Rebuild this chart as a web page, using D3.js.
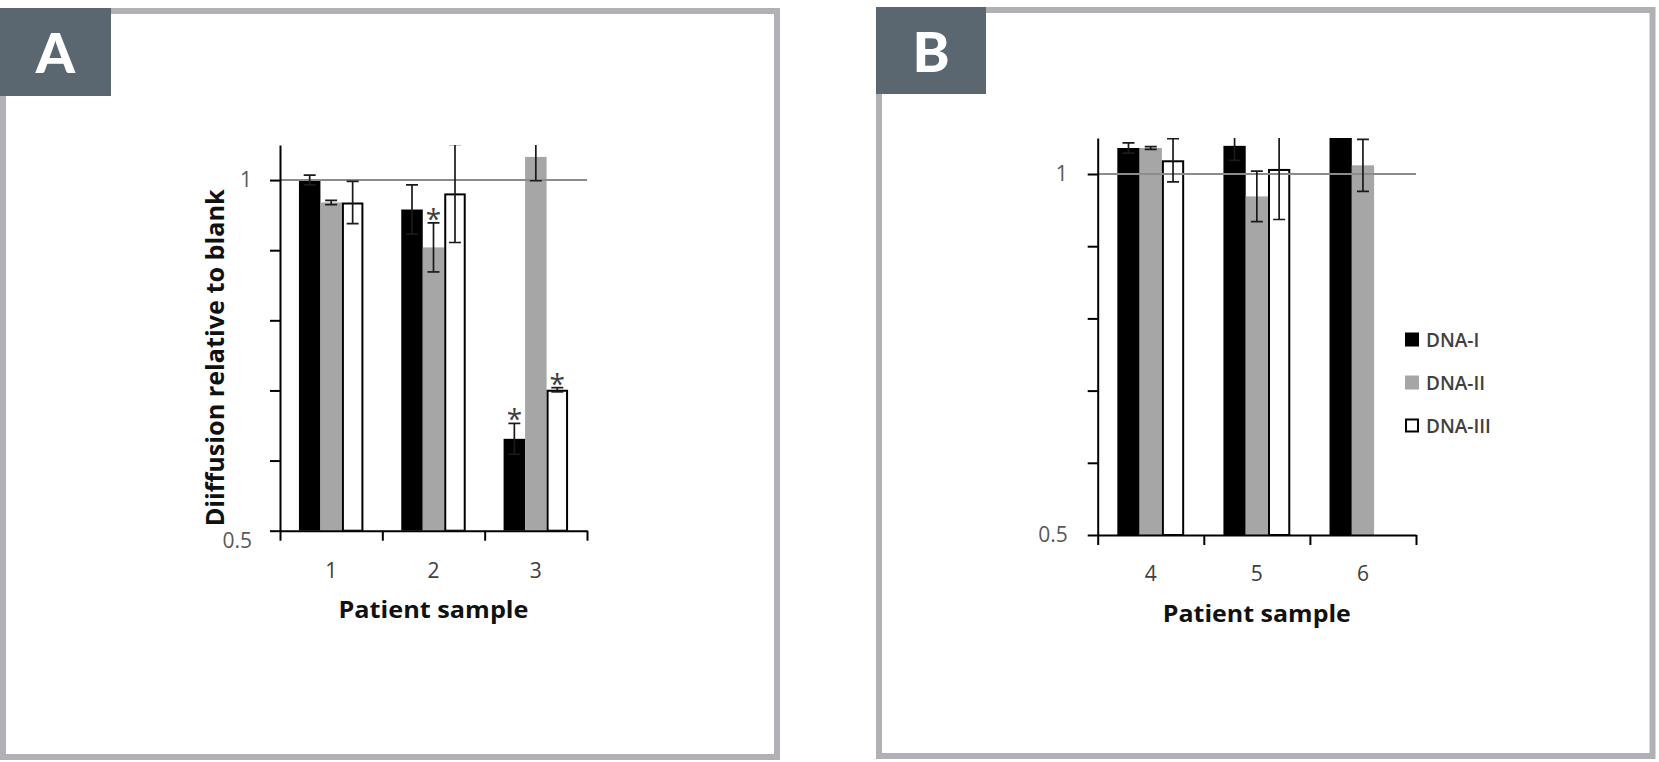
<!DOCTYPE html>
<html>
<head>
<meta charset="utf-8">
<script src="https://cdnjs.cloudflare.com/ajax/libs/d3/7.8.5/d3.min.js"></script>
<style>
  body { margin: 0; background: #fff; }
  svg { display: block; }
</style>
</head>
<body>
<div id="chart"></div>
<script>
const width = 1659;
const height = 762;

// data
const series = ["DNA-I", "DNA-II", "DNA-III"];
const categoriesA = ["1", "2", "3"];
const categoriesB = ["4", "5", "6"];

const dna1A = [1.000, 0.958, 0.631];
const dna2A = [0.968, 0.904, 1.033];
const dna3A = [0.968, 0.981, 0.701];
const err1A = [0.007, 0.035, 0.022];
const err2A = [0.003, 0.035, 0.034];
const err3A = [0.030, 0.070, 0.003];

const dna1B = [1.036, 1.039, 1.070];
const dna2B = [1.036, 0.969, 1.012];
const dna3B = [1.019, 1.007, null];
const err1B = [0.007, 0.020, 0];
const err2B = [0.002, 0.035, 0.036];
const err3B = [0.030, 0.070, null];

// significance stars (series index, category)
const starSeriesA = [1, 0, 2];
const starCatA = ["2", "3", "3"];

const yTicks = [0.5, 0.6, 0.7, 0.8, 0.9, 1];
const yLabeled = [0.5, 1];

const fills = ["#000000", "#a6a6a6", "#ffffff"];
const font = "'Open Sans', 'Liberation Sans', sans-serif";

const svg = d3.select("#chart")
  .append("svg")
  .attr("width", width)
  .attr("height", height);

const panels = [
  { letter: "A", frame: [3, 11, 774, 746], box: [0, 8, 111, 88],
    cats: categoriesA, vals: [dna1A, dna2A, dna3A], errs: [err1A, err2A, err3A],
    x0: 280, x1: 587, yTop: 145, yBottom: 530.7, tickPad: 18,
    ylabel: "Diiffusion relative to blank", ylabelX: 224,
    xlabelY: 618, xlabelLen: 190, ytitleLen: 337, tickLabelY: 578,
    stars: true, legend: false },
  { letter: "B", frame: [879, 10, 773.5, 746], box: [876, 7, 110, 87],
    cats: categoriesB, vals: [dna1B, dna2B, dna3B], errs: [err1B, err2B, err3B],
    x0: 1097.7, x1: 1416, yTop: 137.9, yBottom: 535, tickPad: 20,
    ylabel: null, xlabelY: 622, xlabelLen: 188, tickLabelY: 581,
    stars: false, legend: true }
];

panels.forEach((p, pi) => {
  // panel frame and letter tab
  svg.append("rect")
    .attr("x", p.frame[0]).attr("y", p.frame[1])
    .attr("width", p.frame[2]).attr("height", p.frame[3])
    .attr("fill", "none")
    .attr("stroke", "#b1b0b5")
    .attr("stroke-width", 6);

  svg.append("rect")
    .attr("x", p.box[0]).attr("y", p.box[1])
    .attr("width", p.box[2]).attr("height", p.box[3])
    .attr("fill", "#5b6770");

  svg.append("text")
    .attr("x", p.box[0] + p.box[2] / 2)
    .attr("y", p.box[1] + 65)
    .attr("text-anchor", "middle")
    .style("font-family", "Lato, 'Open Sans', sans-serif")
    .style("font-weight", 900)
    .style("font-size", "56px")
    .attr("fill", "#ffffff")
    .text(p.letter);

  const y = d3.scaleLinear().domain([0.5, 1.05]).range([p.yBottom, p.yTop]);
  const x = d3.scaleBand().domain(p.cats).range([p.x0, p.x1]).padding(0);
  const bw = x.bandwidth();
  const gw = bw * 0.63;
  const xs = d3.scaleBand().domain(series).range([(bw - gw) / 2, (bw + gw) / 2]).padding(0);
  const xb = d3.scaleLinear().domain([0, p.cats.length]).range([p.x0, p.x1]);

  const clipId = "clip" + pi;
  svg.append("clipPath").attr("id", clipId)
    .append("rect")
    .attr("x", p.x0).attr("y", p.yTop)
    .attr("width", p.x1 - p.x0 + 20).attr("height", p.yBottom - p.yTop);

  const plot = svg.append("g").attr("clip-path", "url(#" + clipId + ")");

  const rows = [];
  series.forEach((s, j) => {
    p.cats.forEach((c, i) => {
      if (p.vals[j][i] != null) {
        rows.push({ s: s, j: j, c: c, v: p.vals[j][i], e: p.errs[j][i] });
      }
    });
  });

  plot.selectAll("rect.bar")
    .data(rows)
    .enter()
    .append("rect")
    .attr("class", "bar")
    .attr("x", d => x(d.c) + xs(d.s) + (d.j === 2 ? 1 : 0))
    .attr("width", d => xs.bandwidth() - (d.j === 2 ? 2 : 0))
    .attr("y", d => y(d.v) + (d.j === 2 ? 1 : 0))
    .attr("height", d => p.yBottom - y(d.v) - (d.j === 2 ? 1 : 0))
    .attr("fill", d => fills[d.j])
    .attr("stroke", d => d.j === 2 ? "#000" : "none")
    .attr("stroke-width", 2);

  // reference line at 1
  plot.append("line")
    .attr("x1", p.x0).attr("x2", p.x1)
    .attr("y1", y(1)).attr("y2", y(1))
    .attr("stroke", "#8c8c8c")
    .attr("stroke-width", 2);

  // error bars
  const eb = plot.selectAll("g.err")
    .data(rows.filter(d => d.e > 0))
    .enter()
    .append("g")
    .attr("class", "err")
    .attr("transform", d => "translate(" + (x(d.c) + xs(d.s) + xs.bandwidth() / 2) + ",0)")
    .attr("stroke", "#1a1a1a")
    .attr("stroke-width", 1.7);
  eb.append("line")
    .attr("y1", d => y(d.v - d.e)).attr("y2", d => y(d.v + d.e));
  eb.append("line")
    .attr("x1", -6).attr("x2", 6)
    .attr("y1", d => y(d.v + d.e)).attr("y2", d => y(d.v + d.e));
  eb.append("line")
    .attr("x1", -6).attr("x2", 6)
    .attr("y1", d => y(d.v - d.e)).attr("y2", d => y(d.v - d.e));

  // axes
  const yAxis = d3.axisLeft(y)
    .tickValues(yTicks)
    .tickSize(10)
    .tickSizeOuter(0)
    .tickPadding(p.tickPad)
    .tickFormat(d => yLabeled.includes(d) ? d3.format("")(d) : "");
  const gy = svg.append("g")
    .attr("transform", "translate(" + p.x0 + ",0)")
    .call(yAxis);
  gy.select(".domain").attr("stroke", "#000").attr("stroke-width", 2);
  gy.selectAll(".tick line").attr("stroke", "#000").attr("stroke-width", 2);
  gy.selectAll(".tick text")
    .style("font-family", font)
    .style("font-size", "21px")
    .attr("fill", "#595959");
  if (pi === 0) {
    gy.selectAll(".tick text").filter(d => d === 0.5).attr("dy", "0.8em");
  }

  const gxTicks = svg.append("g")
    .attr("transform", "translate(0," + p.yBottom + ")")
    .call(d3.axisBottom(xb).tickValues(d3.range(p.cats.length + 1)).tickSize(10).tickSizeOuter(0).tickFormat(""));
  gxTicks.select(".domain").attr("stroke", "#000").attr("stroke-width", 2);
  gxTicks.selectAll(".tick line").attr("stroke", "#000").attr("stroke-width", 2);

  const gx = svg.append("g")
    .attr("transform", "translate(0," + p.yBottom + ")")
    .call(d3.axisBottom(x).tickSize(0).tickPadding(0));
  gx.select(".domain").remove();
  gx.selectAll(".tick text")
    .attr("dy", null)
    .attr("y", p.tickLabelY - p.yBottom)
    .style("font-family", font)
    .style("font-size", "21px")
    .attr("fill", "#404040");

  // axis titles
  svg.append("text")
    .attr("x", (p.x0 + p.x1) / 2)
    .attr("y", p.xlabelY)
    .attr("text-anchor", "middle")
    .attr("textLength", p.xlabelLen)
    .attr("lengthAdjust", "spacingAndGlyphs")
    .style("font-family", font)
    .style("font-weight", 700)
    .style("font-size", "23px")
    .attr("fill", "#111")
    .text("Patient sample");

  if (p.ylabel) {
    svg.append("text")
      .attr("transform", "translate(" + p.ylabelX + "," + ((p.yTop + p.yBottom) / 2 + 20) + ") rotate(-90)")
      .attr("text-anchor", "middle")
      .attr("textLength", p.ytitleLen)
      .attr("lengthAdjust", "spacingAndGlyphs")
      .style("font-family", font)
      .style("font-weight", 700)
      .style("font-size", "25px")
      .attr("fill", "#111")
      .text(p.ylabel);
  }

  if (p.stars) {
    const starRows = starSeriesA.map((j, k) => {
      const i = p.cats.indexOf(starCatA[k]);
      return { s: series[j], c: starCatA[k], top: p.vals[j][i] + p.errs[j][i] };
    });
    svg.selectAll("text.star" + pi)
      .data(starRows)
      .enter()
      .append("text")
      .attr("class", "star" + pi)
      .attr("x", d => x(d.c) + xs(d.s) + xs.bandwidth() / 2)
      .attr("y", d => y(d.top) + 6)
      .attr("text-anchor", "middle")
      .style("font-family", font)
      .style("font-size", "28px")
      .attr("fill", "#404040")
      .text("*");
  }

  if (p.legend) {
    const lg = svg.append("g").attr("transform", "translate(1405,332.5)");
    const item = lg.selectAll("g")
      .data(series)
      .enter()
      .append("g")
      .attr("transform", (d, i) => "translate(0," + i * 43 + ")");
    item.append("rect")
      .attr("x", (d, i) => i === 2 ? 1 : 0)
      .attr("y", (d, i) => i === 2 ? 1 : 0)
      .attr("width", (d, i) => i === 2 ? 12 : 14)
      .attr("height", (d, i) => i === 2 ? 12 : 14)
      .attr("fill", (d, i) => fills[i])
      .attr("stroke", (d, i) => i === 2 ? "#000" : "none")
      .attr("stroke-width", 2);
    item.append("text")
      .attr("x", 21)
      .attr("y", 14)
      .style("font-family", font)
      .style("font-weight", 600)
      .style("font-size", "19px")
      .attr("fill", "#404040")
      .text(d => d);
  }
});
</script>
</body>
</html>
